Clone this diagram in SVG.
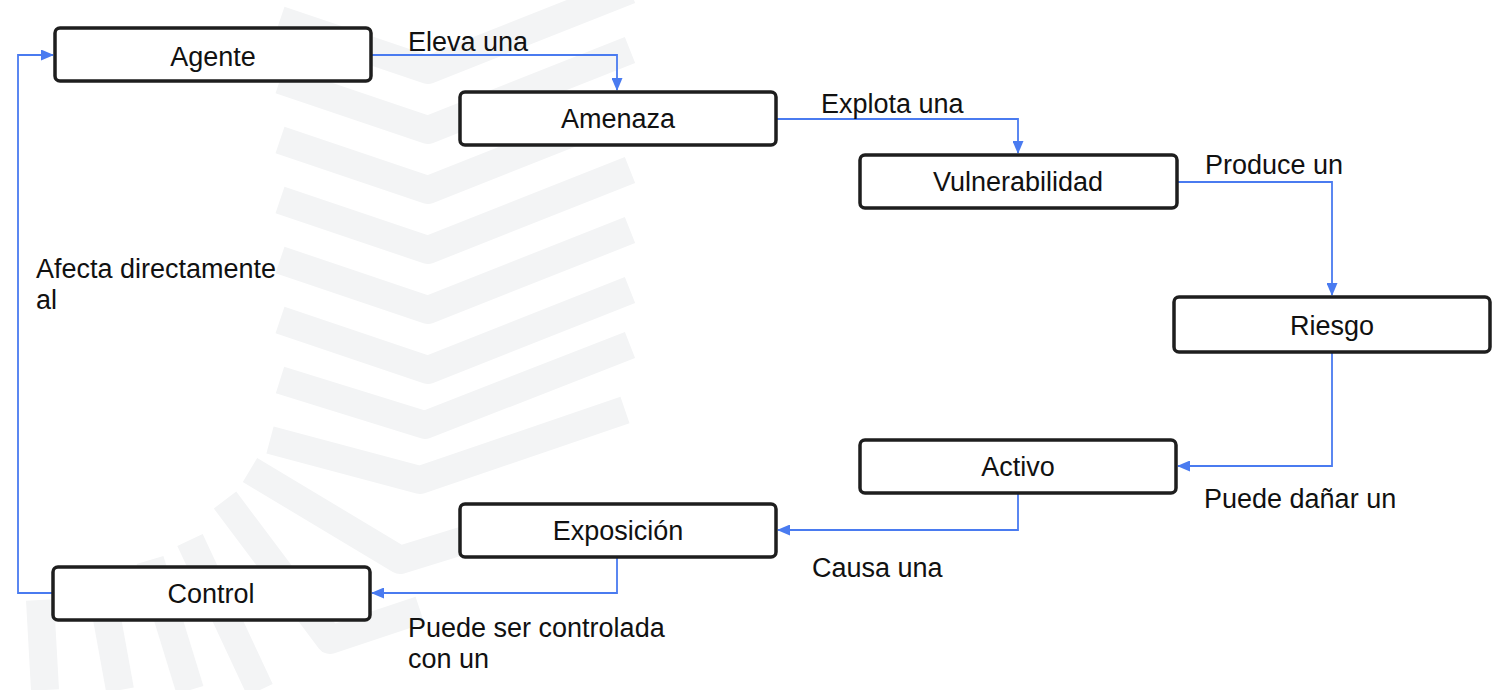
<svg xmlns="http://www.w3.org/2000/svg" width="1510" height="690" viewBox="0 0 1510 690">
<style>
.box{fill:#ffffff;stroke:#1e1e1e;stroke-width:3.5}
.nt{font-family:"Liberation Sans",Arial,sans-serif;font-size:27px;fill:#111;text-anchor:middle}
.lt{font-family:"Liberation Sans",Arial,sans-serif;font-size:27px;fill:#111}
.edge{fill:none;stroke:#4a7bf0;stroke-width:1.8}
.wm{fill:none;stroke:#f3f4f5;stroke-width:28;stroke-linejoin:round;stroke-linecap:butt}
</style>
<defs>
<marker id="arr" markerUnits="userSpaceOnUse" markerWidth="13" markerHeight="11" refX="12" refY="5.5" orient="auto">
<path d="M0,0 L13,5.5 L0,11 z" fill="#4a7bf0"/>
</marker>
</defs>
<rect width="1510" height="690" fill="#ffffff"/>
<g id="watermark">
<polyline class="wm" points="280,20 428,70 630,-10"/>
<polyline class="wm" points="280,80 428,130 630,50"/>
<polyline class="wm" points="280,140 428,190 630,110"/>
<polyline class="wm" points="280,200 428,250 630,170"/>
<polyline class="wm" points="280,260 428,310 630,230"/>
<polyline class="wm" points="280,320 428,370 630,290"/>
<polyline class="wm" points="280,380 425,425 630,345"/>
<polyline class="wm" points="270,440 420,480 625,410"/>
<polyline class="wm" points="250,470 400,560 530,520"/>
<polyline class="wm" points="225,500 330,640 420,610"/>
<polyline class="wm" points="190,540 260,690"/>
<polyline class="wm" points="150,560 190,690"/>
<polyline class="wm" points="100,580 120,690"/>
<polyline class="wm" points="40,600 45,690"/>
</g>
<g id="connectors">
<path class="edge" d="M371,55 H617 V90" marker-end="url(#arr)"/>
<path class="edge" d="M776,119 H1018 V153" marker-end="url(#arr)"/>
<path class="edge" d="M1177,182 H1332 V295" marker-end="url(#arr)"/>
<path class="edge" d="M1332,352 V466 H1178" marker-end="url(#arr)"/>
<path class="edge" d="M1018,493 V530 H778" marker-end="url(#arr)"/>
<path class="edge" d="M617,557 V593 H372" marker-end="url(#arr)"/>
<path class="edge" d="M53,593 H18 V55 H53" marker-end="url(#arr)"/>
</g>
<g id="labels">
<text class="lt" x="408" y="51">Eleva una</text>
<text class="lt" x="821" y="113">Explota una</text>
<text class="lt" x="1205" y="174">Produce un</text>
<text class="lt" x="36" y="278">Afecta directamente</text>
<text class="lt" x="36" y="309">al</text>
<text class="lt" x="1204" y="508">Puede dañar un</text>
<text class="lt" x="812" y="577">Causa una</text>
<text class="lt" x="408" y="637">Puede ser controlada</text>
<text class="lt" x="408" y="668">con un</text>
</g>
<g id="agente"><rect class="box" x="55" y="28" width="316" height="53" rx="5"/><text class="nt" x="213" y="66">Agente</text></g>
<g id="amenaza"><rect class="box" x="460" y="92" width="316" height="53" rx="5"/><text class="nt" x="618" y="128">Amenaza</text></g>
<g id="vulnerabilidad"><rect class="box" x="860" y="155" width="317" height="53" rx="5"/><text class="nt" x="1018" y="191">Vulnerabilidad</text></g>
<g id="riesgo"><rect class="box" x="1174" y="297" width="316" height="55" rx="5"/><text class="nt" x="1332" y="335">Riesgo</text></g>
<g id="activo"><rect class="box" x="860" y="440" width="316" height="53" rx="5"/><text class="nt" x="1018" y="476">Activo</text></g>
<g id="exposicion"><rect class="box" x="460" y="504" width="316" height="53" rx="5"/><text class="nt" x="618" y="540">Exposición</text></g>
<g id="control"><rect class="box" x="53" y="567" width="317" height="53" rx="5"/><text class="nt" x="211" y="603">Control</text></g>
</svg>
